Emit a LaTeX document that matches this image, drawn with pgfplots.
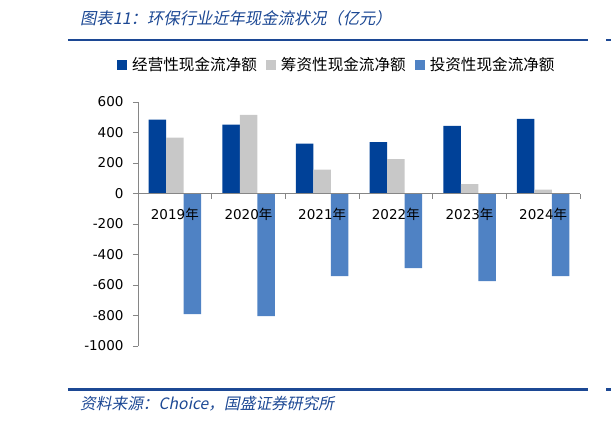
\documentclass[border=0pt]{standalone}
\usepackage{fontspec}
\usepackage{pgfplots}
\pgfplotsset{compat=1.18}
\setmainfont{DejaVu Sans}
\newfontfamily\cjk{Noto Sans CJK SC}
\newfontfamily\cjkit[FakeSlant=0.2]{Noto Sans CJK SC}
\definecolor{opblue}{RGB}{0,65,152}
\definecolor{fingray}{RGB}{200,200,200}
\definecolor{invblue}{RGB}{79,130,196}
\definecolor{hdrblue}{RGB}{28,72,148}
\definecolor{axgray}{RGB}{134,134,134}

\begin{document}
\begin{tikzpicture}[x=1bp,y=1bp]
\path[use as bounding box] (-138,-75) rectangle (473,346);
% header / footer
\node[anchor=west, inner sep=0pt, text=hdrblue, font=\cjkit\fontsize{16.3bp}{19bp}\selectfont] at (-58,328) {图表11：环保行业近年现金流状况（亿元）};
\draw[hdrblue, line width=2.2bp] (-70,306) -- (450,306);
\draw[hdrblue, line width=2.2bp] (468,306) -- (473,306);
\draw[hdrblue, line width=2.2bp] (-70,-43.5) -- (450,-43.5);
\draw[hdrblue, line width=2.2bp] (468,-43.5) -- (473,-43.5);
\node[anchor=west, inner sep=0pt, text=hdrblue, font=\cjkit\fontsize{15.7bp}{18bp}\selectfont] at (-58,-58) {资料来源：Choice，国盛证券研究所};

\begin{axis}[
  at={(0,0)}, anchor=south west,
  scale only axis, width=442bp, height=244bp,
  axis on top,
  ymin=-1000, ymax=600, ytick={-1000,-800,...,600},
  xmin=-0.5, xmax=5.5,
  axis y line*=left, axis x line*=middle,
  axis line style={axgray, line width=0.8bp},
  xtick={0,...,5},
  xticklabels={2019{\cjk 年},2020{\cjk 年},2021{\cjk 年},2022{\cjk 年},2023{\cjk 年},2024{\cjk 年}},
  major x tick style={draw=none},
  minor xtick={-0.5,0.5,...,5.5},
  minor x tick style={axgray, line width=0.8bp},
  minor tick length=5bp,
  xtick align=inside,
  ytick align=outside,
  major tick length=5bp,
  y tick style={axgray, line width=0.8bp},
  tick label style={font=\fontsize{13.5bp}{16bp}\selectfont},
  xticklabel style={yshift=-6bp},
  yticklabel style={xshift=-6bp},
  /pgf/number format/assume math mode=true,
  /pgf/number format/1000 sep={},
  ybar=0bp, bar width=17.5bp,
  legend columns=3,
  legend style={draw=none, fill=none, at={(axis description cs:-0.0475,1.152)}, anchor=west,
    inner sep=0pt, font=\cjk\fontsize{15.6bp}{18bp}\selectfont,
    /tikz/every odd column/.append style={column sep=3bp},
    /tikz/every even column/.append style={column sep=7bp}},
  legend image code/.code={\fill[#1, draw=none] (0bp,-5bp) rectangle (10bp,5bp);},
]
\addplot[fill=opblue, draw=none] coordinates {(0,485) (1,451) (2,327) (3,337) (4,444) (5,490)};
\addplot[fill=fingray, draw=none] coordinates {(0,366) (1,516) (2,157) (3,225) (4,62) (5,26)};
\addplot[fill=invblue, draw=none] coordinates {(0,-791) (1,-804) (2,-542) (3,-490) (4,-575) (5,-542)};
\legend{经营性现金流净额,筹资性现金流净额,投资性现金流净额}
\end{axis}
\end{tikzpicture}
\end{document}
